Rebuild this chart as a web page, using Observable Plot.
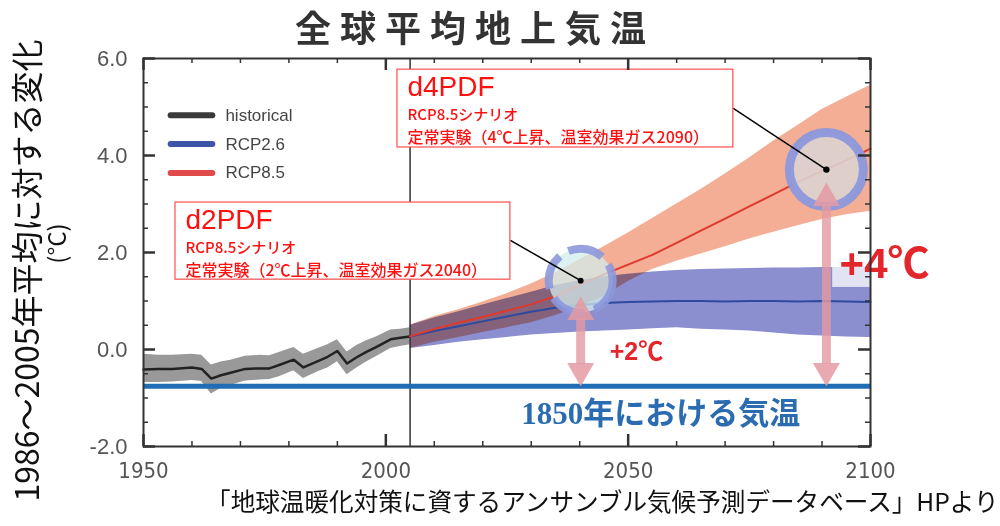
<!DOCTYPE html>
<html><head><meta charset="utf-8">
<script src="https://cdn.jsdelivr.net/npm/d3@7"></script>
<script src="https://cdn.jsdelivr.net/npm/@observablehq/plot@0.6"></script>
<style>
body{margin:0;background:#fff;}
#wrap{position:relative;width:1000px;height:526px;overflow:hidden;}
#title{position:absolute;left:0;top:4px;width:950px;text-align:center;font:bold 36px 'Noto Sans CJK JP',sans-serif;letter-spacing:9px;color:#333;line-height:44px;}
</style></head>
<body><div id="wrap"><div id="chart"></div><div id="title">全球平均地上気温</div></div>
<script>
// ---- data ----
const histYears = [1950,1953,1956,1960,1962,1964,1966,1968,1971,1974,1976,1978,1981,1983,1986,1988,1990,1992,1994,1996,1998,2001,2003,2005];
const histMean  = [-0.41,-0.40,-0.40,-0.37,-0.40,-0.60,-0.53,-0.48,-0.40,-0.39,-0.39,-0.32,-0.21,-0.37,-0.24,-0.15,-0.03,-0.29,-0.16,-0.05,0.05,0.21,0.24,0.27];
const histUpper = [-0.10,-0.12,-0.12,-0.10,-0.12,-0.32,-0.26,-0.22,-0.14,-0.12,-0.13,-0.06,0.04,-0.10,0.02,0.10,0.20,-0.05,0.08,0.18,0.26,0.40,0.42,0.45];
const histLower = [-0.68,-0.68,-0.67,-0.64,-0.66,-0.92,-0.80,-0.74,-0.65,-0.63,-0.62,-0.56,-0.44,-0.60,-0.46,-0.38,-0.25,-0.52,-0.38,-0.26,-0.15,0.02,0.06,0.10];

const projYears  = [2005,2010,2015,2020,2025,2030,2035,2040,2045,2050,2055,2060,2065,2070,2075,2080,2085,2090,2095,2100];
const rcp85Mean  = [0.27,0.42,0.55,0.67,0.80,0.93,1.10,1.33,1.55,1.75,1.95,2.20,2.45,2.70,2.95,3.20,3.45,3.68,3.90,4.14];
const rcp85Upper = [0.50,0.68,0.82,0.98,1.15,1.35,1.58,1.85,2.12,2.40,2.70,3.00,3.30,3.62,3.95,4.30,4.62,4.95,5.20,5.45];
const rcp85Lower = [0.02,0.15,0.25,0.35,0.45,0.55,0.70,0.88,1.10,1.40,1.65,1.82,1.97,2.12,2.28,2.42,2.55,2.68,2.78,2.85];
const rcp26Mean  = [0.27,0.38,0.48,0.58,0.68,0.78,0.86,0.92,0.96,0.98,0.99,1.00,1.00,0.99,1.00,1.00,0.99,1.00,0.99,0.98];
const rcp26Upper = [0.50,0.65,0.78,0.92,1.05,1.18,1.32,1.42,1.50,1.55,1.60,1.63,1.65,1.66,1.67,1.68,1.68,1.69,1.69,1.69];
const rcp26Lower = [0.02,0.08,0.15,0.20,0.25,0.30,0.33,0.36,0.38,0.40,0.43,0.45,0.42,0.40,0.38,0.34,0.30,0.28,0.26,0.25];

const baseline1850 = -0.76;
const baselineLabel = "1850年における気温";

const legendLabels = ["historical","RCP2.6","RCP8.5"];
const legendColors = ["#3a3a3a","#3d55a8","#e04a4a"];

const xTickLabels = [1950,2000,2050,2100];
const xMinorTicks = [1960,1970,1980,1990,2010,2020,2030,2040,2060,2070,2080,2090];
const yTickLabels = [-2,0,2,4,6];
const yMinorTicks = [-1.5,-1,-0.5,0.5,1,1.5,2.5,3,3.5,4.5,5,5.5];

const pdfNames    = ["d2PDF","d4PDF"];
const pdfScenario = ["RCP8.5シナリオ","RCP8.5シナリオ"];
const pdfDetail   = ["定常実験（2℃上昇、温室効果ガス2040）","定常実験（4℃上昇、温室効果ガス2090）"];
const pdfYear     = [2040.2, 2090.9];
const pdfTemp     = [1.42, 3.71];
const arrowTop    = [1.09, 3.44];
const warmingLabels = ["+2℃","+4℃"];

const yTitle = "1986～2005年平均に対する変化";
const yUnit = "(°C)";
const caption = "「地球温暖化対策に資するアンサンブル気候予測データベース」HPより";

// ---- tables ----
const hist = histYears.map((year,i)=>({year, mean:histMean[i], hi:histUpper[i], lo:histLower[i]}));
const proj = projYears.map((year,i)=>({year, m85:rcp85Mean[i], hi85:rcp85Upper[i], lo85:rcp85Lower[i], m26:rcp26Mean[i], hi26:rcp26Upper[i], lo26:rcp26Lower[i]}));
const boxes = [
  {x1:1956.6, x2:2025.7, y1:3.03, y2:1.44, cy:2.25},
  {x1:2002.4, x2:2071.7, y1:5.77, y2:4.165, cy:4.97}
];
const pdf = pdfNames.map((name,i)=>({name, scen:pdfScenario[i], detail:pdfDetail[i], year:pdfYear[i], temp:pdfTemp[i], top:arrowTop[i], ...boxes[i]}));
const warm = [
  {label:warmingLabels[0], x:2051.7, y:-0.06, size:25},
  {label:warmingLabels[1], x:2102.9, y:1.75, size:42}
];
const legend = legendLabels.map((label,i)=>({label, color:legendColors[i], y:4.83 - i*0.595}));

const W=1000, H=526, ML=143, MR=130, MT=58, MB=80;
const PW=W-ML-MR, PH=H-MT-MB;
const jp = "'Noto Sans CJK JP', sans-serif";
const pink = "#e49aa3";
const axisCol = "#333";

const chart = Plot.plot({
  width:W, height:H, marginLeft:ML, marginRight:MR, marginTop:MT, marginBottom:MB,
  x:{domain:[1950,2100]},
  y:{domain:[-2,6]},
  style:{fontFamily:"'Liberation Sans', Arial, sans-serif", background:"white"},
  marks:[
    Plot.areaY(hist,{x:"year", y1:"lo", y2:"hi", fill:"#999999"}),
    Plot.areaY(proj,{x:"year", y1:"lo26", y2:"hi26", fill:"#8b8ecf"}),
    Plot.areaY(proj,{x:"year", y1:"lo85", y2:"hi85", fill:"#f2a084", fillOpacity:0.85, mixBlendMode:"multiply"}),
    Plot.ruleX([2005],{stroke:axisCol, strokeWidth:1.5}),
    Plot.ruleY([baseline1850],{stroke:"#1f6db5", strokeWidth:5}),
    Plot.lineY(hist,{x:"year", y:"mean", stroke:"#222", strokeWidth:2.5}),
    Plot.lineY(proj,{x:"year", y:"m26", stroke:"#2d4a9e", strokeWidth:2}),
    Plot.lineY(proj,{x:"year", y:"m85", stroke:"#e0392c", strokeWidth:2}),
    // rings
    Plot.dot(pdf.slice(0,1),{x:"year", y:"temp", r:32, fill:"#d3ecec", fillOpacity:0.75, stroke:"#8c98dc", strokeWidth:8, strokeDasharray:"36 10", strokeOpacity:0.9}),
    Plot.dot(pdf.slice(1),{x:"year", y:"temp", r:37, fill:"#dcd3cf", fillOpacity:0.9, stroke:"#8c98dc", strokeWidth:9, strokeOpacity:0.95}),
    // +4 background
    Plot.rect([{}],{x1:2092.2, x2:2114.4, y1:2.19, y2:1.28, fill:"white", fillOpacity:0.75}),
    // arrows
    Plot.ruleX(pdf,{x:"year", y1:"top", y2:()=>baseline1850, stroke:pink, strokeWidth:9, strokeOpacity:0.8, insetTop:22, insetBottom:22}),
    Plot.dot(pdf,{x:"year", y:"top", symbol:"triangle", r:10, fill:pink, fillOpacity:0.85, dy:15.5}),
    Plot.dot(pdf,{x:"year", y:()=>baseline1850, symbol:"triangle", rotate:180, r:10, fill:pink, fillOpacity:0.85, dy:-15.5}),
    // connectors
    Plot.link(pdf,{x1:"x2", y1:"cy", x2:"year", y2:"temp", stroke:"black", strokeWidth:1.5}),
    Plot.dot(pdf,{x:"year", y:"temp", r:(d,i)=>i?14:12, fill:"black"}),
    // annotation boxes
    Plot.rect(pdf,{x1:"x1", x2:"x2", y1:"y1", y2:"y2", fill:"white", stroke:"#ff4d4d", strokeWidth:1.2}),
    Plot.text(pdf,{x:"x1", y:"y1", text:"name", dx:10, dy:26, textAnchor:"start", lineAnchor:"bottom", fontSize:28, fill:"#ff1010", fontFamily:"'Liberation Sans', Arial, sans-serif"}),
    Plot.text(pdf,{x:"x1", y:"y1", text:"scen", dx:10, dy:50, textAnchor:"start", lineAnchor:"bottom", fontSize:15, fill:"#ff1010", fontWeight:500, fontFamily:jp}),
    Plot.text(pdf,{x:"x1", y:"y1", text:"detail", dx:10, dy:73, textAnchor:"start", lineAnchor:"bottom", fontSize:16, fill:"#ff1010", fontWeight:500, fontFamily:jp}),
    // warming labels
    Plot.text(warm,{x:"x", y:"y", text:"label", fontSize:d=>d.size, fontWeight:"bold", fill:"#e3262b", fontFamily:"'Liberation Sans', Arial, 'Noto Sans CJK JP', sans-serif"}),
    // baseline label
    Plot.text([baselineLabel],{x:()=>2056.7, y:()=>-1.34, text:d=>d, fontSize:31, fontWeight:"bold", fill:"#2b6cb0", fontFamily:"'Liberation Serif', 'DejaVu Serif', 'Noto Sans CJK JP', serif"}),
    // legend
    Plot.link(legend,{x1:()=>1955.6, x2:()=>1964.2, y1:"y", y2:"y", stroke:"color", strokeWidth:6, strokeLinecap:"round"}),
    Plot.text(legend,{x:()=>1966.9, y:"y", text:"label", textAnchor:"start", fontSize:17, fill:"#444"}),
    // ticks (inward)
    Plot.tickX(xMinorTicks,{x:d=>d, insetTop:PH-5, stroke:axisCol, strokeWidth:1.5}),
    Plot.tickX(xMinorTicks,{x:d=>d, insetBottom:PH-5, stroke:axisCol, strokeWidth:1.5}),
    Plot.tickX(xTickLabels,{x:d=>d, insetTop:PH-12, stroke:axisCol, strokeWidth:2.5}),
    Plot.tickX(xTickLabels,{x:d=>d, insetBottom:PH-12, stroke:axisCol, strokeWidth:2.5}),
    Plot.tickY(yMinorTicks,{y:d=>d, insetRight:PW-5, stroke:axisCol, strokeWidth:1.5}),
    Plot.tickY(yMinorTicks,{y:d=>d, insetLeft:PW-5, stroke:axisCol, strokeWidth:1.5}),
    Plot.tickY(yTickLabels,{y:d=>d, insetRight:PW-12, stroke:axisCol, strokeWidth:2.5}),
    Plot.tickY(yTickLabels,{y:d=>d, insetLeft:PW-12, stroke:axisCol, strokeWidth:2.5}),
    Plot.frame({stroke:axisCol, strokeWidth:2}),
    Plot.axisX({ticks:xTickLabels, tickSize:0, tickPadding:16, tickFormat:d=>String(d), fontSize:22, fill:"#555", label:null, fontFamily:"'Liberation Sans Narrow', 'Arial Narrow', 'DejaVu Sans Condensed', sans-serif"}),
    Plot.axisY({ticks:yTickLabels, tickSize:0, tickPadding:16, tickFormat:d=>d.toFixed(1), fontSize:22, fill:"#555", label:null}),
    // titles
    Plot.text([yTitle],{frameAnchor:"left", text:d=>d, rotate:-90, textAnchor:"middle", dx:-115, dy:18, fontSize:32, fill:"#111", fontFamily:jp}),
    Plot.text([yUnit],{frameAnchor:"left", text:d=>d, rotate:-90, textAnchor:"middle", dx:-85, dy:-9, fontSize:24, fill:"#111", fontFamily:jp}),
    Plot.text([caption],{frameAnchor:"bottom-right", text:d=>d, textAnchor:"end", dx:128, dy:64, fontSize:24.6, fill:"#111", fontFamily:jp})
  ]
});
document.getElementById("chart").appendChild(chart);
</script>
</body></html>
